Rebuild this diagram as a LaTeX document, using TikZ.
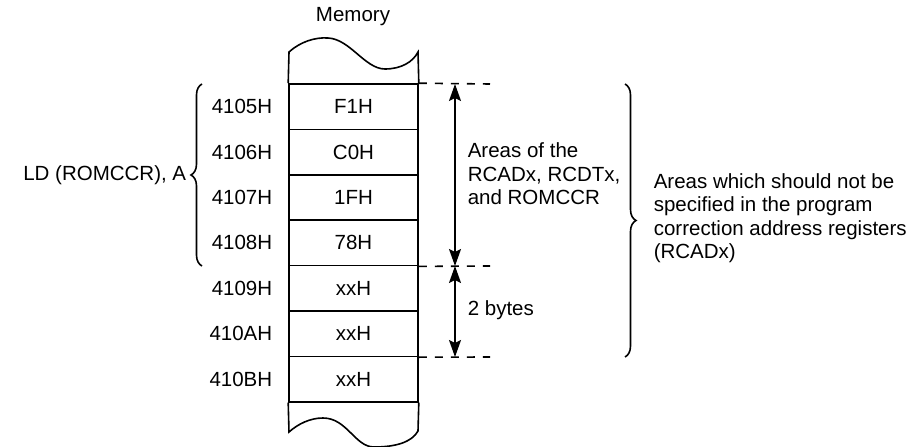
\documentclass[tikz,border=0pt]{standalone}
\usepackage{fontspec}
\setmainfont{Liberation Sans}
\usetikzlibrary{arrows.meta,decorations.pathreplacing}

\begin{document}
\begin{tikzpicture}[x=1pt, y=-1pt, line width=1.6pt,
	every node/.style={font=\fontsize{20.5}{23.5}\selectfont},
	>={Stealth[length=17pt, width=12pt, inset=3pt]},
	cell/.style={draw, minimum width=129pt, minimum height=45.4pt, inner sep=0pt},
	addr/.style={anchor=east, inner sep=0pt},
	bracket/.style={decorate, decoration={brace, amplitude=11pt}},
	guide/.style={dash pattern=on 8pt off 8pt}]
	\useasboundingbox (0,0) rectangle (919,447);
	\node (mem) at (353,17) {Memory};
	% memory column
	\node[cell] (c0) at (353.5,106.7) {F1H};
	\node[cell] (c1) at (353.5,152.1) {C0H};
	\node[cell] (c2) at (353.5,197.5) {1FH};
	\node[cell] (c3) at (353.5,242.9) {78H};
	\node[cell] (c4) at (353.5,288.3) {xxH};
	\node[cell] (c5) at (353.5,333.7) {xxH};
	\node[cell] (c6) at (353.5,379.1) {xxH};
	\draw (c0.north west) -- (289,52) .. controls (300,42) and (315,37) .. (328,38) .. controls (350,39) and (365,69) .. (385,69) .. controls (401,69) and (413,62) .. (418,52) -- (c0.north east);
	\draw (c6.south west) -- (289,432) .. controls (298,424) and (310,418) .. (323,418) .. controls (347,418) and (355,447) .. (374,447) .. controls (396,447) and (412,442) .. (418,431) -- (c6.south east);
	% addresses
	\node[addr] (a0) at (273,106.7) {4105H};
	\node[addr] (a1) at (273,152.1) {4106H};
	\node[addr] (a2) at (273,197.5) {4107H};
	\node[addr] (a3) at (273,242.9) {4108H};
	\node[addr] (a4) at (273,288.3) {4109H};
	\node[addr] (a5) at (273,333.7) {410AH};
	\node[addr] (a6) at (273,379.1) {410BH};
	\draw[bracket] (202,266) -- (202,84);
	\node[addr] (ld) at (187,175) {LD (ROMCCR), A};
	% boundaries and sizes
	\coordinate (g0) at (490,84);
	\coordinate (g1) at (490,266);
	\coordinate (g2) at (490,357);
	\draw[guide] (c0.north east) -- (g0);
	\draw[guide] (c3.south east) -- (g1);
	\draw[guide] (c5.south east) -- (g2);
	\coordinate (p0) at (455,84);
	\coordinate (p1) at (455,266);
	\coordinate (p2) at (455,357);
	\draw[<->] (p0) -- (p1);
	\draw[<->] (p1) -- (p2);
	\node[anchor=west, align=left, inner sep=0pt] (areas) at (467,174) {Areas of the\\RCADx, RCDTx,\\and ROMCCR};
	\node[anchor=west, inner sep=0pt] (two) at (467,310) {2 bytes};
	\draw[bracket] (625,84) -- (625,357);
	\node[anchor=west, align=left, inner sep=0pt] (note) at (653,218) {Areas which should not be\\specified in the program\\correction address registers\\(RCADx)};
\end{tikzpicture}
\end{document}
